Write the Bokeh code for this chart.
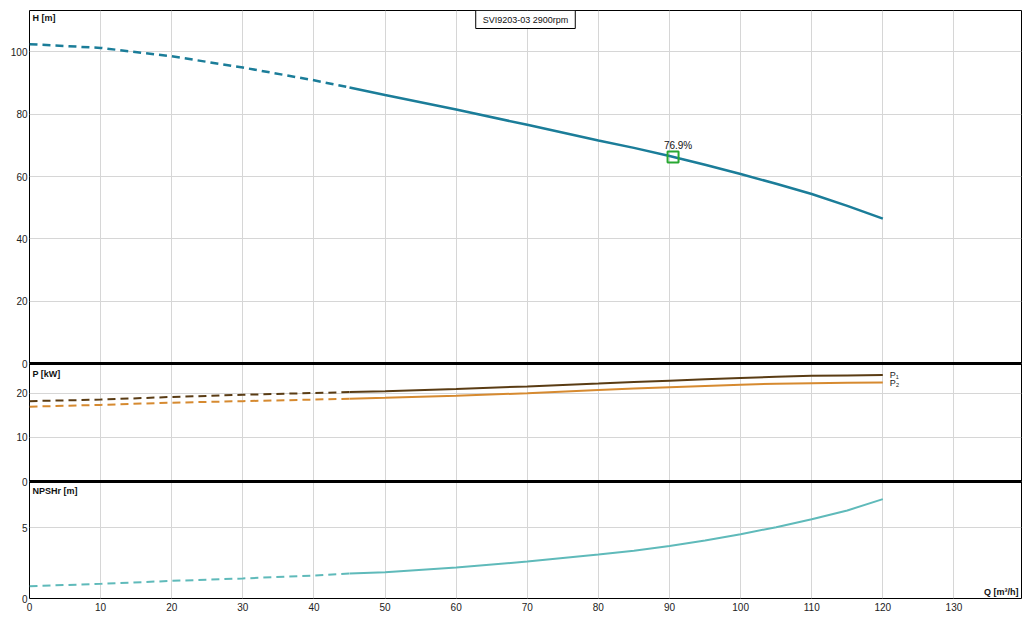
from bokeh.plotting import figure
from bokeh.models import Range1d, FixedTicker, Grid, Span, Label
from bokeh.embed import file_html
from bokeh.resources import INLINE
from bokeh.core.properties import value

# ---------------- data ----------------
q_dash = [0, 10, 20, 30, 40, 45]
q_solid = [45, 50, 60, 70, 80, 85, 90, 95, 100, 105, 110, 115, 120]

h_dash = [102.5, 101.3, 98.6, 95.0, 90.9, 88.6]
h_solid = [88.6, 86.2, 81.5, 76.6, 71.6, 69.2, 66.6, 63.8, 60.8, 57.7, 54.4, 50.6, 46.5]

p1_dash = [18.25, 18.6, 19.2, 19.7, 20.1, 20.3]
p1_solid = [20.3, 20.5, 21.0, 21.6, 22.25, 22.6, 22.9, 23.2, 23.5, 23.8, 24.0, 24.1, 24.2]

p2_dash = [17.0, 17.4, 17.9, 18.25, 18.6, 18.8]
p2_solid = [18.8, 19.0, 19.5, 20.05, 20.8, 21.1, 21.4, 21.7, 22.0, 22.2, 22.3, 22.4, 22.5]

npsh_dash = [0.87, 1.03, 1.24, 1.41, 1.62, 1.76]
npsh_solid = [1.76, 1.85, 2.18, 2.6, 3.1, 3.37, 3.7, 4.08, 4.53, 5.02, 5.58, 6.2, 7.0]

bep_q = [90.5]
bep_h = [66.3]
bep_label = ["76.9%"]

x_ticks = [0, 10, 20, 30, 40, 50, 60, 70, 80, 90, 100, 110, 120, 130]
h_ticks = [0, 20, 40, 60, 80, 100]
p_ticks = [0, 10, 20]
n_ticks = [0, 5]

title_text = "SVI9203-03 2900rpm"
h_title = "H [m]"
p_title = "P [kW]"
n_title = "NPSHr [m]"
q_title = "Q [m\u00b3/h]"
p1_name = "P\u2081"
p2_name = "P\u2082"

X_MAX = 139.5
H_MAX, P_MAX, N_MAX = 113.3, 26.8, 8.24

# ---------------- layout ----------------
FONT = "Liberation Sans"
C_H = "#1b7d99"
C_P1 = "#5a3c14"
C_P2 = "#d68a30"
C_N = "#5fbaba"
C_BEP = "#28a832"
C_GRID = "#d6d6d6"

FRAME_W = 992
panel_px = {"H": 353, "P": 118, "N": 117}
panel_max = {"H": H_MAX, "P": P_MAX, "N": N_MAX}
panel_ticks = {"H": h_ticks, "P": p_ticks, "N": n_ticks}
FRAME_H = sum(panel_px.values())
panel_bottom = {"N": 0, "P": panel_px["N"], "H": panel_px["N"] + panel_px["P"]}

p = figure(frame_width=FRAME_W, frame_height=FRAME_H,
           x_range=Range1d(0, X_MAX), y_range=Range1d(0, FRAME_H),
           output_backend="svg", toolbar_location=None,
           min_border_left=29, min_border_right=8,
           min_border_top=10, min_border_bottom=20)

for k in ("H", "P", "N"):
    upp = panel_max[k] / panel_px[k]
    p.extra_y_ranges[k] = Range1d(-panel_bottom[k] * upp,
                                  (FRAME_H - panel_bottom[k]) * upp)

p.background_fill_color = "white"
p.border_fill_color = "white"
p.outline_line_color = "black"
p.outline_line_alpha = 1.0
p.outline_line_width = 1

# vertical grid
p.xgrid.ticker = FixedTicker(ticks=x_ticks)
p.xgrid.grid_line_color = C_GRID
p.ygrid.visible = False
for k in ("H", "P", "N"):
    g = Grid(dimension=1, ticker=FixedTicker(ticks=panel_ticks[k]),
             y_range_name=k, grid_line_color=C_GRID)
    p.add_layout(g)

# axes
tick_pos = []
overrides = {}
for k in ("H", "P", "N"):
    scale = panel_px[k] / panel_max[k]
    for v in panel_ticks[k]:
        pos = panel_bottom[k] + v * scale
        tick_pos.append(pos)
        overrides[pos] = str(v)
p.yaxis.ticker = FixedTicker(ticks=tick_pos)
p.yaxis.major_label_overrides = overrides
p.xaxis.ticker = FixedTicker(ticks=x_ticks)
for ax in (p.xaxis, p.yaxis):
    ax.axis_line_color = None
    ax.major_tick_line_color = None
    ax.minor_tick_line_color = None
    ax.major_tick_out = 0
    ax.major_tick_in = 0
    ax.major_label_text_font = FONT
    ax.major_label_text_font_size = "10px"
    ax.major_label_text_color = "#222222"
p.yaxis.major_label_standoff = 2
p.xaxis.major_label_standoff = 4

# separators
for k in ("H", "P"):
    p.add_layout(Span(location=0, dimension="width", y_range_name=k,
                      line_color="black", line_width=3))

# curves
DASH = "8 5"
p.line(q_dash, h_dash, y_range_name="H", line_color=C_H, line_width=2.5, line_dash=DASH)
p.line(q_solid, h_solid, y_range_name="H", line_color=C_H, line_width=2.5)
p.line(q_dash, p1_dash, y_range_name="P", line_color=C_P1, line_width=2, line_dash=DASH)
p.line(q_solid, p1_solid, y_range_name="P", line_color=C_P1, line_width=2)
p.line(q_dash, p2_dash, y_range_name="P", line_color=C_P2, line_width=2, line_dash=DASH)
p.line(q_solid, p2_solid, y_range_name="P", line_color=C_P2, line_width=2)
p.line(q_dash, npsh_dash, y_range_name="N", line_color=C_N, line_width=2, line_dash=DASH)
p.line(q_solid, npsh_solid, y_range_name="N", line_color=C_N, line_width=2)

# best efficiency point
p.scatter(bep_q, bep_h, y_range_name="H", marker="square", size=11,
          fill_color=None, line_color=C_BEP, line_width=2)
p.text(bep_q, bep_h, text=bep_label, y_range_name="H", x_offset=5, y_offset=-6,
       text_align="center", text_baseline="bottom",
       text_font=value(FONT), text_font_size="10px", text_color="#111111")

# P1 / P2 names
p.text([q_solid[-1]], [p1_solid[-1]], text=[p1_name], y_range_name="P",
       x_offset=7, y_offset=0, text_align="left", text_baseline="middle",
       text_font=value(FONT), text_font_size="9px", text_color="#222222")
p.text([q_solid[-1]], [p2_solid[-1]], text=[p2_name], y_range_name="P",
       x_offset=7, y_offset=1, text_align="left", text_baseline="middle",
       text_font=value(FONT), text_font_size="9px", text_color="#222222")

# title box
p.add_layout(Label(x=X_MAX / 2, y=H_MAX, y_range_name="H", text=title_text,
                   text_align="center", text_baseline="top", y_offset=0,
                   padding=(7, 4), border_line_color="black", border_line_width=1,
                   background_fill_color="white",
                   text_font=FONT, text_font_size="9px", text_color="#111111"))

# axis titles
for k, t, off in (("H", h_title, -2), ("P", p_title, -5), ("N", n_title, -4)):
    p.add_layout(Label(x=0, y=panel_max[k], y_range_name=k, text=t,
                       x_offset=3, y_offset=off, text_align="left", text_baseline="top",
                       text_font=FONT, text_font_size="9px", text_font_style="bold",
                       text_color="#111111"))
p.add_layout(Label(x=X_MAX, y=0, y_range_name="N", text=q_title,
                   x_offset=-3, y_offset=2, text_align="right", text_baseline="bottom",
                   text_font=FONT, text_font_size="9px", text_font_style="bold",
                   text_color="#111111"))

open("out.html", "w").write(file_html(p, INLINE))
